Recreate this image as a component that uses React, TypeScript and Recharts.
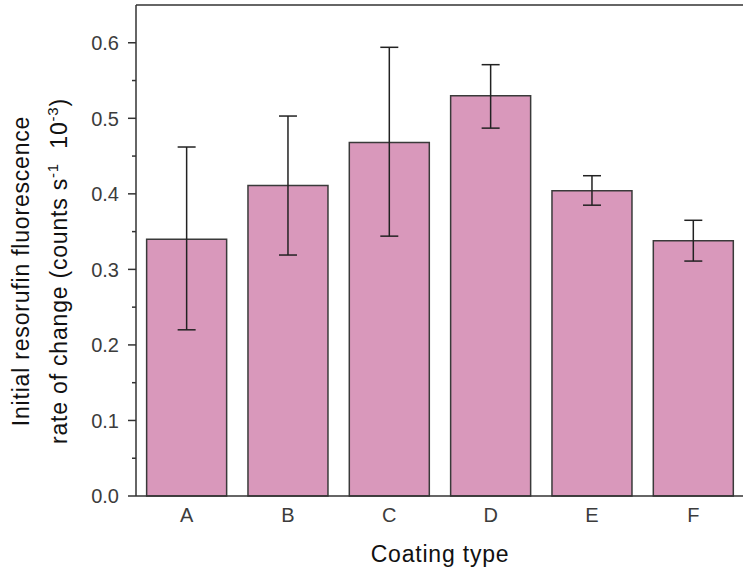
import { Bar, BarChart, ErrorBar, ReferenceLine, XAxis, YAxis } from "recharts";

const categories = ["A", "B", "C", "D", "E", "F"];
const rates = [0.34, 0.411, 0.468, 0.53, 0.404, 0.338];
const lowerBounds = [0.22, 0.319, 0.344, 0.487, 0.385, 0.311];
const upperBounds = [0.462, 0.503, 0.594, 0.571, 0.424, 0.365];
const yTicks = [0, 0.05, 0.1, 0.15, 0.2, 0.25, 0.3, 0.35, 0.4, 0.45, 0.5, 0.55, 0.6];

const data = categories.map((c, i) => ({
  coating: c,
  rate: rates[i],
  err: [rates[i] - lowerBounds[i], upperBounds[i] - rates[i]],
}));

const FONT = '"Liberation Sans", Arial, sans-serif';
const INK = "#333";
const TICK_SIZE = 8;
const TICK_MARGIN = 9;

function YTick(props: any) {
  const { x, y, payload } = props;
  const v = payload.value as number;
  const major = Math.abs(v * 10 - Math.round(v * 10)) < 1e-6;
  const axisX = x + TICK_SIZE + TICK_MARGIN;
  return (
    <g>
      <line x1={axisX} x2={axisX - (major ? 8 : 4)} y1={y} y2={y} stroke={INK} strokeWidth={1.5} />
      {major && (
        <text x={x} y={y} dy="0.36em" textAnchor="end" fontSize={20} fill="#3c3c3c" fontFamily={FONT}>
          {v.toFixed(1)}
        </text>
      )}
    </g>
  );
}

function YTitle() {
  const cy = 271;
  return (
    <g fontFamily={FONT} fontSize={23} fill="#111" letterSpacing={0.8}>
      <text x={29} y={cy} textAnchor="middle" transform={`rotate(-90, 29, ${cy})`}>
        Initial resorufin fluorescence
      </text>
      <text x={67} y={cy} textAnchor="middle" transform={`rotate(-90, 67, ${cy})`}>
        rate of change (counts s
        <tspan dy={-9} fontSize={15}>-1</tspan>
        <tspan dy={9}>{"\u00a0\u00a010"}</tspan>
        <tspan dy={-9} fontSize={15}>-3</tspan>
        <tspan dy={9}>)</tspan>
      </text>
    </g>
  );
}

function XTitle() {
  return (
    <text x={440} y={562} textAnchor="middle" fontFamily={FONT} fontSize={23} fill="#111" letterSpacing={0.8}>
      Coating type
    </text>
  );
}

export default function App() {
  return (
    <div style={{ position: "absolute", left: 0, top: 0, width: 743, height: 568, overflow: "hidden", background: "#fff" }}>
      <BarChart
        width={752}
        height={568}
        data={data}
        margin={{ top: 5, right: 8, bottom: 0, left: 0 }}
        barCategoryGap="10.5%"
      >
        <XAxis
          dataKey="coating"
          height={72}
          tickSize={0}
          tickMargin={12}
          axisLine={{ stroke: INK, strokeWidth: 1.5 }}
          tick={{ fontSize: 20, fill: "#3c3c3c", fontFamily: FONT }}
          label={{ content: () => <XTitle /> }}
        />
        <YAxis
          width={136}
          domain={[0, 0.65]}
          ticks={yTicks}
          interval={0}
          tickSize={TICK_SIZE}
          tickMargin={TICK_MARGIN}
          tickLine={false}
          axisLine={{ stroke: INK, strokeWidth: 1.5 }}
          tick={<YTick />}
          label={{ content: () => <YTitle /> }}
        />
        <ReferenceLine y={0.65} stroke={INK} strokeWidth={1.5} />
        <Bar dataKey="rate" fill="#d998bb" stroke="#3a3a3a" strokeWidth={1.5} isAnimationActive={false}>
          <ErrorBar dataKey="err" width={9} stroke="#222" strokeWidth={1.5} direction="y" />
        </Bar>
      </BarChart>
    </div>
  );
}
